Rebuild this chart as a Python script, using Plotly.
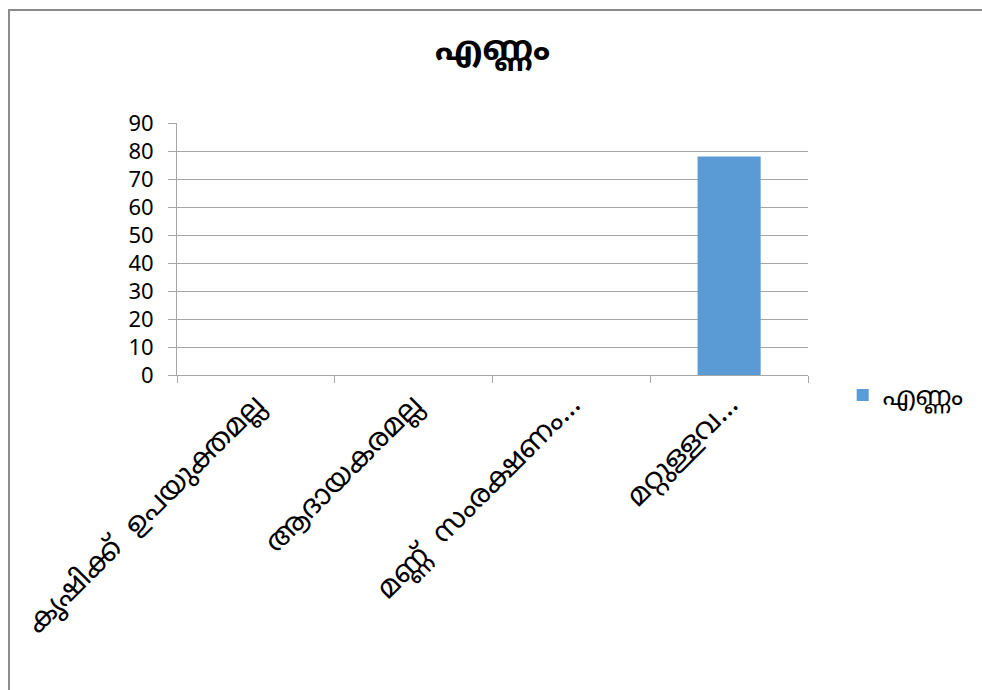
import plotly.graph_objects as go

# Survey responses: reasons and their counts
categories = [
    "കൃഷിക്ക്  ഉപയുക്തമല്ല",
    "ആദായകരമല്ല",
    "മണ്ണ്  സംരക്ഷണം...",
    "മറ്റുള്ളവ...",
]
counts = [0, 0, 0, 78]
series_name = "എണ്ണം"
y_ticks = [0, 10, 20, 30, 40, 50, 60, 70, 80, 90]

grid_color = "#A6A6A6"
text_color = "#000000"
base_font = "Noto Sans Malayalam, Noto Sans, DejaVu Sans, sans-serif"

fig = go.Figure()
fig.add_trace(go.Bar(
    x=categories,
    y=counts,
    name=series_name,
    marker=dict(color="#5B9BD5", line=dict(width=0)),
    width=0.4,
    showlegend=True,
))

fig.update_layout(
    width=982,
    height=690,
    margin=dict(l=177, r=174, t=123, b=315),
    paper_bgcolor="white",
    plot_bgcolor="white",
    font=dict(family=base_font, color=text_color, size=20),
    title=dict(
        text="<b>എണ്ണം</b>",
        x=0.5,
        xanchor="center",
        xref="paper",
        y=0.93,
        yanchor="middle",
        font=dict(size=34, color=text_color),
    ),
    legend=dict(
        x=1.055,
        y=-0.08,
        xanchor="left",
        yanchor="middle",
        font=dict(size=26),
        bgcolor="rgba(0,0,0,0)",
        itemwidth=30,
        borderwidth=0,
    ),
    bargap=0.6,
)

fig.update_xaxes(
    type="category",
    tickangle=-45,
    tickson="boundaries",
    ticks="outside",
    ticklen=7,
    tickcolor=grid_color,
    showline=True,
    linecolor=grid_color,
    linewidth=1,
    showgrid=False,
    tickfont=dict(size=29),
)
fig.update_yaxes(
    range=[0, 90],
    tickvals=y_ticks,
    ticks="outside",
    ticklen=8,
    tickcolor=grid_color,
    showline=True,
    linecolor=grid_color,
    linewidth=1,
    showgrid=True,
    gridcolor=grid_color,
    gridwidth=1,
    zeroline=False,
    tickfont=dict(size=22),
    ticklabelstandoff=10,
)

# Outer chart frame (extends past the page on the right and bottom)
fig.add_shape(
    type="rect",
    xref="paper", yref="paper",
    x0=-168 / 631, x1=1000 / 631,
    y0=-340 / 252, y1=(252 + 113) / 252,
    line=dict(color="#8C8C8C", width=2),
    fillcolor="rgba(0,0,0,0)",
    layer="below",
)

fig.write_html("out.html")
